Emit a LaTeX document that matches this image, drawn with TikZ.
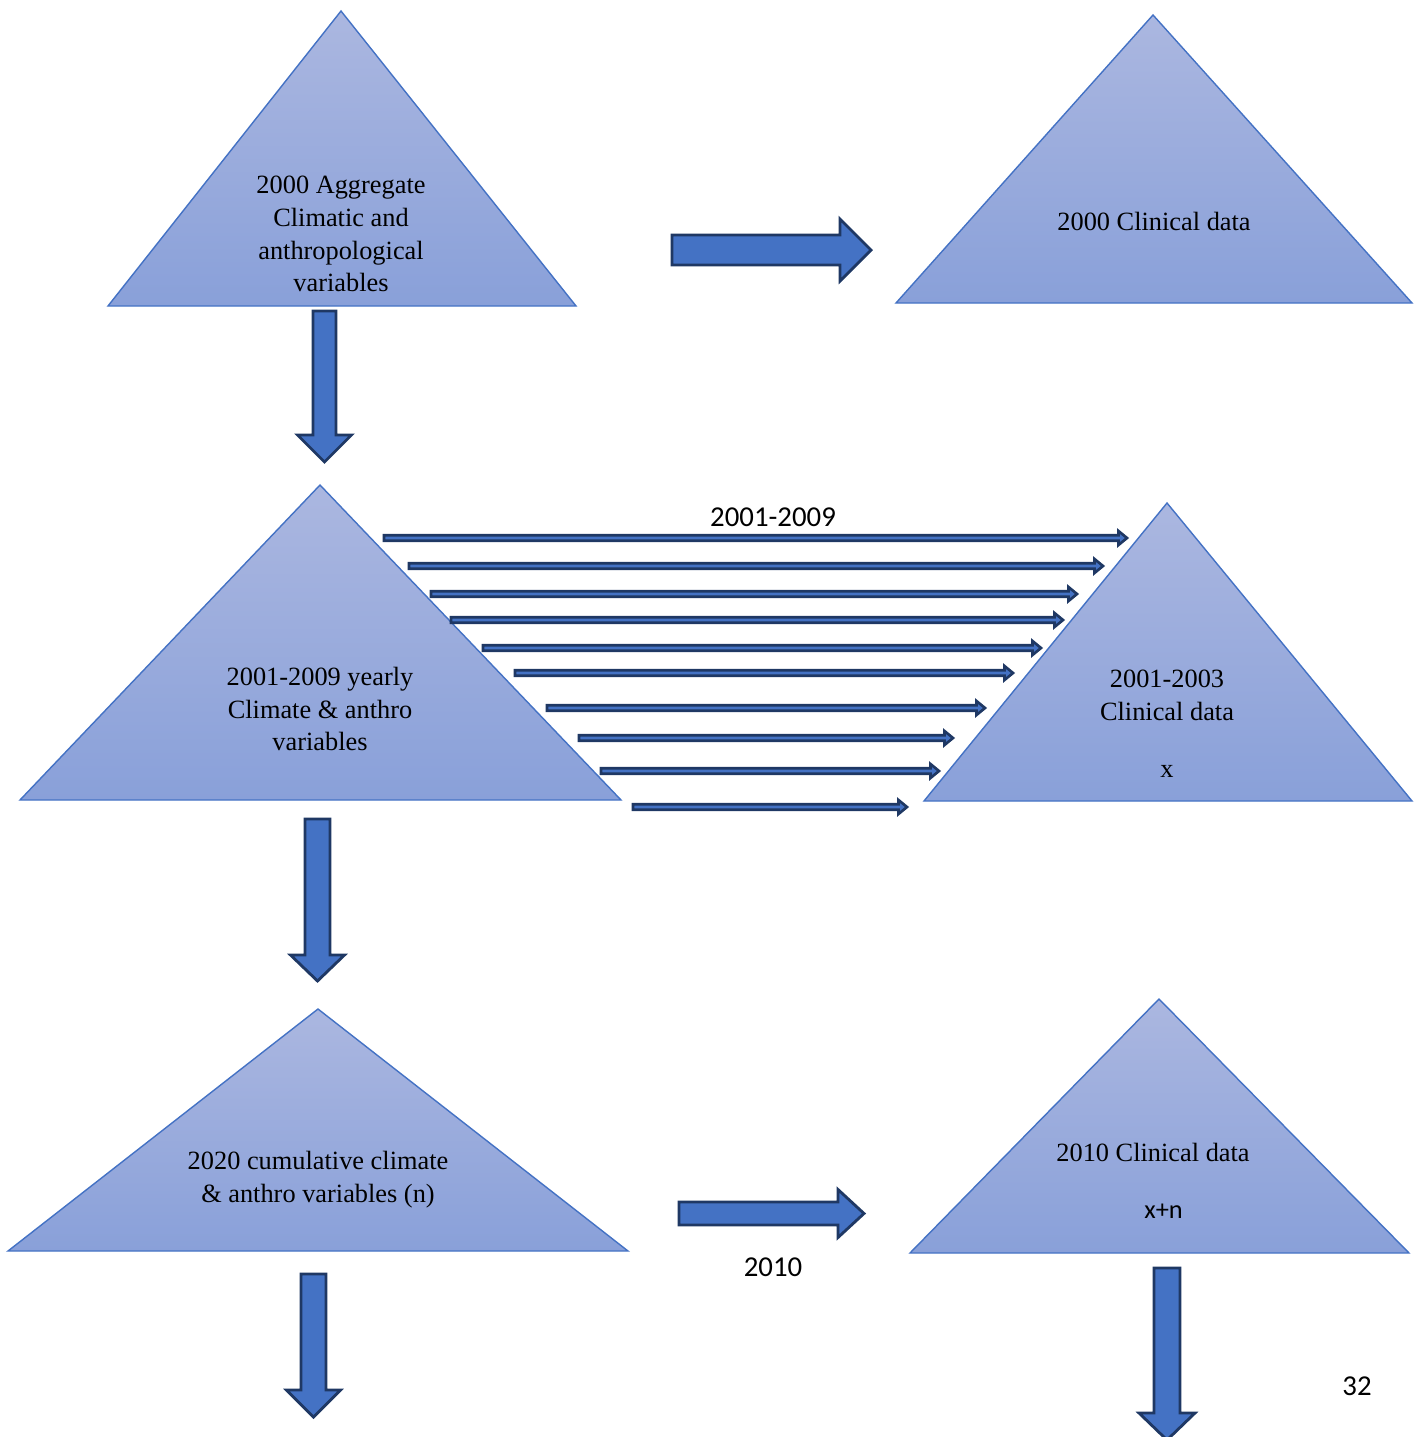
\documentclass[tikz,border=0pt]{standalone}
\usepackage{fontspec}
\setmainfont{Liberation Serif}
\newfontfamily\calibri{Carlito}
\definecolor{tritop}{RGB}{171,183,224}
\definecolor{tribot}{RGB}{137,160,217}
\definecolor{triedge}{RGB}{68,114,196}
\definecolor{arrowfill}{RGB}{68,114,196}
\definecolor{arrowedge}{RGB}{31,56,100}
\usetikzlibrary{calc}

% block arrow to the right: [style]{start}{tip}{half shaft}{half head}{head length}
\newcommand{\harrow}[6][]{%
  \filldraw[bigarrow,#1] ($(#2)+(0,-#4)$) -- ($(#3)+(-#6,-#4)$) -- ($(#3)+(-#6,-#5)$) -- (#3)
    -- ($(#3)+(-#6,#5)$) -- ($(#3)+(-#6,#4)$) -- ($(#2)+(0,#4)$) -- cycle;}
% block arrow going down
\newcommand{\varrow}[6][]{%
  \filldraw[bigarrow,#1] ($(#2)+(-#4,0)$) -- ($(#3)+(-#4,-#6)$) -- ($(#3)+(-#5,-#6)$) -- (#3)
    -- ($(#3)+(#5,-#6)$) -- ($(#3)+(#4,-#6)$) -- ($(#2)+(#4,0)$) -- cycle;}

\begin{document}
\begin{tikzpicture}[x=0.02cm,y=-0.02cm,
    tri/.style={top color=tritop,bottom color=tribot,draw=triedge,line width=0.8pt},
    tritext/.style={align=center,inner sep=0pt,font=\fontsize{15}{18.7}\selectfont},
    bigarrow/.style={fill=arrowfill,draw=arrowedge,line width=1.6pt},
    thinarrow/.style={line width=1.5pt},
    label/.style={inner sep=0pt,font=\calibri\fontsize{16.4}{19}\selectfont}
    ]
    \useasboundingbox (0,0) rectangle (1417,1437);

    % the triangles
    \path[tri] (341,11) -- (576,306) -- (108,306) -- cycle;
    \path[tri] (1153,15) -- (1412,303) -- (896,303) -- cycle;
    \path[tri] (320,485) -- (621,800) -- (20,800) -- cycle;
    \path[tri] (1167,503) -- (1412,801) -- (924,801) -- cycle;
    \path[tri] (318,1009) -- (628,1251) -- (8,1251) -- cycle;
    \path[tri] (1159,999) -- (1409,1253) -- (910,1253) -- cycle;

    % their texts
    \node[tritext] (agg) at (341,234) {2000 Aggregate\\Climatic and\\anthropological\\variables};
    \node[tritext] (clin) at (1154,221) {2000 Clinical data};
    \node[tritext] (yearly) at (320,709) {2001-2009 yearly\\Climate \& anthro\\variables};
    \node[tritext] (clinx) at (1167,724) {2001-2003\\Clinical data\\[14pt]x};
    \node[tritext] (cum) at (318,1180) {2020 cumulative climate\\\& anthro variables (n)};
    \node[tritext] (clinxn) at (1153,1181) {2010 Clinical data\\[14pt]\hspace*{12pt}{\calibri x+n}};

    % the big arrows
    \coordinate (a1s) at (672,250);    \coordinate (a1e) at (871,250);
    \coordinate (a2s) at (324.5,311);  \coordinate (a2e) at (324.5,462);
    \coordinate (a3s) at (317.5,819);  \coordinate (a3e) at (317.5,981);
    \coordinate (a4s) at (679,1213.5); \coordinate (a4e) at (864,1213.5);
    \coordinate (a5s) at (313.5,1274); \coordinate (a5e) at (313.5,1417);
    \coordinate (a6s) at (1167,1268);  \coordinate (a6e) at (1167,1440);
    \harrow{a1s}{a1e}{15}{31}{31}
    \varrow{a2s}{a2e}{11.5}{27}{27}
    \varrow{a3s}{a3e}{12.5}{27}{26}
    \harrow{a4s}{a4e}{11.5}{24}{26}
    \varrow{a5s}{a5e}{12.5}{27}{27}
    \varrow{a6s}{a6e}{13}{28}{27}

    % the yearly arrows
    \foreach \y/\xs/\xe [count=\i] in {538/384/1127,566/409/1103,594/431/1077,620/451/1063,
        648/483/1041,673/515/1013,708/547/985,738/579/953,771/601/939,807/633/907}{
      \coordinate (ys\i) at (\xs,\y);
      \coordinate (ye\i) at (\xe,\y);
      \harrow[thinarrow]{ys\i}{ye\i}{2.7}{7}{8.5}
    }

    % the labels
    \node[label] (yrs) at (773,517) {2001-2009};
    \node[label] (ten) at (773,1267) {2010};
    \node[label] (page) at (1357,1386) {32};
\end{tikzpicture}
\end{document}
